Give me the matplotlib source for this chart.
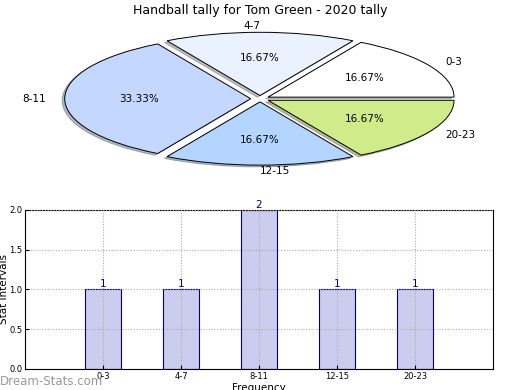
import matplotlib
matplotlib.use("Agg")
import matplotlib.pyplot as plt

categories = ["0-3", "4-7", "8-11", "12-15", "20-23"]
counts = [1, 1, 2, 1, 1]
pie_colors = ["#ffffff", "#eaf2ff", "#c4d8ff", "#b3d5ff", "#d0eb8a"]
title = "Handball tally for Tom Green - 2020 tally"

fig = plt.figure(figsize=(5.2, 3.9), dpi=100)

# Pie
axp = fig.add_axes([0.0, 0.538, 1.0, 0.41])
wedges, texts, autotexts = axp.pie(
    counts, labels=categories, colors=pie_colors, autopct="%1.2f%%",
    startangle=0, counterclock=True, explode=[0.05] * len(counts),
    shadow=dict(ox=-0.01, oy=-0.02, shade=0.5), labeldistance=1.1,
    pctdistance=0.6,
    wedgeprops=dict(edgecolor="black", linewidth=0.7),
    textprops=dict(fontsize=7.5))
axp.set_aspect("auto")
axp.set_xlim(-1.398, 1.398)
axp.set_ylim(-1.288, 1.24)
axp.axis("off")
fig.text(0.5, 0.973, title, ha="center", va="center", fontsize=9)

# Bars
axb = fig.add_axes([0.048, 0.054, 0.9, 0.408])
x = list(range(len(categories)))
bars = axb.bar(x, counts, width=0.46, color="#ccccee", edgecolor="#000080",
               linewidth=0.8, zorder=1)
for xi, c in zip(x, counts):
    axb.text(xi, c, str(c), ha="center", va="bottom", fontsize=7.5,
             color="#000080")
axb.set_xlim(-1, 5)
axb.set_ylim(0, 2.0)
axb.set_xticks(x)
axb.set_xticklabels(categories)
axb.set_yticks([0.0, 0.5, 1.0, 1.5, 2.0])
axb.set_yticklabels(["0.0", "0.5", "1.0", "1.5", "2.0"])
axb.tick_params(labelsize=6, direction="in", length=3, pad=2)
axb.grid(True, linestyle=(0, (1, 1.5)), color="#aaaaaa", linewidth=0.8,
         zorder=3)
axb.set_axisbelow(False)
axb.set_ylabel("Stat intervals", fontsize=7.5, labelpad=0)
axb.set_xlabel("Frequency", fontsize=7.5, labelpad=2)
fig.text(0.0, 0.023, "Dream-Stats.com", fontsize=8.5, color="#999999",
         ha="left", va="center")

fig.savefig("out.png", dpi=100)
